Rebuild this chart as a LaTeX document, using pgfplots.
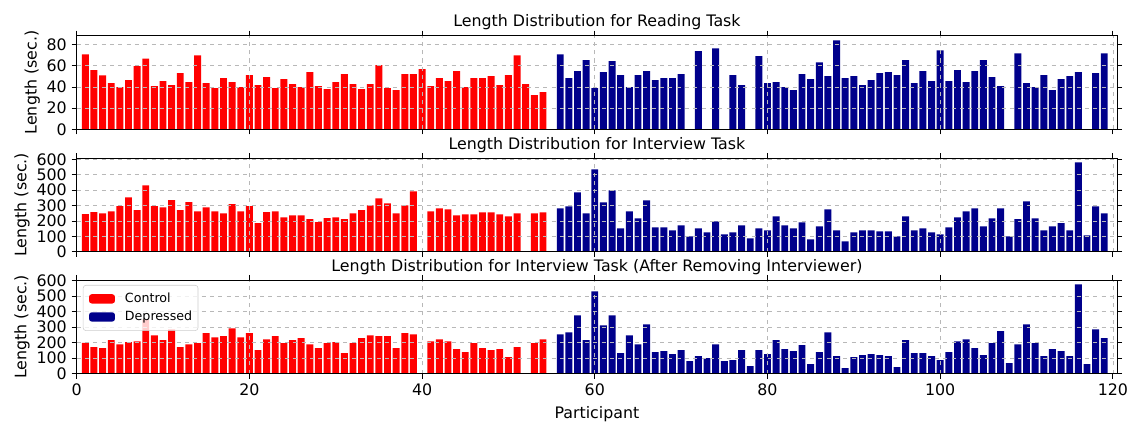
\documentclass[border=0pt]{standalone}
\usepackage{fontspec}
\setmainfont{DejaVu Sans}
\usepackage{pgfplots}
\pgfplotsset{compat=1.18}
\definecolor{ctrl}{RGB}{255,0,0}
\definecolor{depr}{RGB}{0,0,139}
\newcommand{\mainfs}{\fontsize{11.4}{13.7}\selectfont}
\pgfplotsset{
  panel/.style={
    width=749.2pt, height=67.5pt, scale only axis,
    xmin=0, xmax=120.5, ymin=0,
    ybar,
    axis on top,
    grid=major,
    major grid style={dashed, color=black!28, line width=0.5pt},
    tick align=outside,
    major tick length=3.6pt,
    tick style={black, line width=0.6pt},
    axis line style={black, line width=0.6pt},
    xtick={0,20,...,120},
    ylabel={Length (sec.)},
    label style={font=\mainfs},
    title style={font=\mainfs, yshift=-5.7pt},
    ticklabel style={font=\mainfs},
    /pgf/number format/assume math mode=true,
    ylabel style={yshift=-2pt},
  },
  cbar/.style={fill=ctrl, draw=none, bar width=0.8, bar shift=0pt},
  dbar/.style={fill=depr, draw=none, bar width=0.8, bar shift=0pt},
}
\begin{document}
\begin{tikzpicture}
\useasboundingbox (-55.2pt,-34.1pt) rectangle (757.7pt,269.1pt);
% ---------------- Reading ----------------
\begin{axis}[panel, at={(0pt,176pt)}, anchor=south west, ymax=88.5,
  ytick={0,20,...,80}, xticklabels={},
  title={Length Distribution for Reading Task}]
\addplot[cbar] coordinates {
(1,70.8)(2,55.8)(3,51)(4,43.6)(5,39.8)(6,46.4)(7,59.6)(8,66.8)(9,40.8)(10,45.5)
(11,41.7)(12,53)(13,44.5)(14,69.9)(15,43.6)(16,38.9)(17,48.3)(18,44.5)(19,39.8)(20,51.1)
(21,41.7)(22,49.2)(23,38.9)(24,47.3)(25,42.6)(26,39.8)(27,53.9)(28,40.8)(29,37.9)(30,44.5)
(31,52)(32,42.6)(33,37.9)(34,42.6)(35,60.5)(36,38.9)(37,37)(38,52)(39,52)(40,56.7)
(41,40.8)(42,48.3)(43,45.5)(44,54.9)(45,39.8)(46,48.3)(47,48.3)(48,50.2)(49,41.7)(50,51.1)
(51,69.9)(52,42.6)(53,32.3)(54,35.1)};
\addplot[dbar] coordinates {
(56,70.8)(57,48.3)(58,54.9)(59,65.2)(60,38.9)(61,53.9)(62,64.3)(63,51.1)(64,39.8)(65,51.1)
(66,54.9)(67,46.4)(68,48.3)(69,48.3)(70,52)(72,73.7)(74,76.5)(76,51.1)(77,41.7)(79,69)
(80,43.6)(81,44.5)(82,39.8)(83,37)(84,52)(85,47.3)(86,63.3)(87,50.2)(88,84)(89,48.3)
(90,50.2)(91,41.7)(92,46.4)(93,53)(94,53.9)(95,51.1)(96,65.2)(97,43.6)(98,54.9)(99,45.5)
(100,74.6)(101,45.5)(102,55.8)(103,44.5)(104,54.9)(105,65.2)(106,49.2)(107,40.8)(109,71.8)
(110,43.6)(111,39.8)(112,51.1)(113,37)(114,47.3)(115,50.2)(116,53.9)(118,53)(119,71.8)};
\end{axis}
% ---------------- Interview ----------------
\begin{axis}[panel, at={(0pt,87.8pt)}, anchor=south west, ymax=609,
  ytick={0,100,...,600}, xticklabels={},
  title={Length Distribution for Interview Task}]
\addplot[cbar] coordinates {
(1,244)(2,257)(3,250)(4,263)(5,296)(6,354)(7,270)(8,432)(9,296)(10,289)
(11,335)(12,270)(13,322)(14,263)(15,289)(16,263)(17,250)(18,309)(19,263)(20,296)
(21,186)(22,257)(23,263)(24,224)(25,237)(26,237)(27,212)(28,192)(29,218)(30,224)
(31,212)(32,250)(33,270)(34,302)(35,347)(36,315)(37,250)(38,302)(39,393)
(41,262)(42,282)(43,275)(44,236)(45,243)(46,243)(47,256)(48,256)(49,243)(50,230)
(51,249)(53,249)(54,256)};
\addplot[dbar] coordinates {
(56,282)(57,295)(58,386)(59,249)(60,535)(61,321)(62,399)(63,152)(64,262)(65,217)
(66,334)(67,158)(68,158)(69,139)(70,171)(71,100)(72,152)(73,126)(74,197)(75,113)
(76,126)(77,171)(78,87)(79,152)(80,139)(81,230)(82,171)(83,152)(84,191)(85,80)
(86,165)(87,275)(88,139)(89,67)(90,126)(91,139)(92,139)(93,132)(94,132)(95,100)
(96,230)(97,139)(98,152)(99,126)(100,113)(101,158)(102,223)(103,262)(104,282)(105,165)
(106,217)(107,282)(108,100)(109,212)(110,327)(111,217)(112,139)(113,165)(114,186)(115,139)
(116,581)(117,106)(118,295)(119,249)};
\end{axis}
% ---------------- Interview w/o interviewer ----------------
\begin{axis}[panel, at={(0pt,0pt)}, anchor=south west, ymax=604,
  ytick={0,100,...,600},
  xlabel={Participant},
  xlabel style={yshift=-1pt},
  title={Length Distribution for Interview Task (After Removing Interviewer)},
  legend style={at={(0.006,0.947)}, anchor=north west,
    font=\fontsize{9.1}{11}\selectfont,
    draw=black!20, rounded corners=2pt, fill=white, fill opacity=0.8, text opacity=1,
    inner xsep=4.2pt, inner ysep=5.6pt, row sep=4.6pt, column sep=7.2pt,
    nodes={inner sep=0pt}},
  legend cell align=left,
  legend image code/.code={\fill[#1, fill opacity=1] (0pt,-3.35pt) rectangle (18.7pt,3.35pt);},
  ]
\addplot[cbar] coordinates {
(1,199)(2,171)(3,165)(4,216)(5,190)(6,203)(7,209)(8,350)(9,248)(10,216)
(11,286)(12,171)(13,190)(14,197)(15,261)(16,235)(17,242)(18,293)(19,235)(20,261)
(21,152)(22,222)(23,242)(24,197)(25,216)(26,229)(27,190)(28,165)(29,197)(30,203)
(31,133)(32,197)(33,229)(34,248)(35,242)(36,242)(37,165)(38,261)(39,254)
(41,209)(42,222)(43,209)(44,158)(45,139)(46,197)(47,165)(48,152)(49,158)(50,107)
(51,171)(52,4)(53,197)(54,222)};
\addlegendentry{Control}
\addplot[dbar] coordinates {
(56,254)(57,267)(58,376)(59,216)(60,530)(61,312)(62,376)(63,133)(64,248)(65,190)
(66,318)(67,139)(68,145)(69,126)(70,152)(71,81)(72,113)(73,100)(74,190)(75,81)
(76,88)(77,152)(78,49)(79,152)(80,126)(81,216)(82,158)(83,145)(84,184)(85,62)
(86,139)(87,267)(88,113)(89,36)(90,107)(91,120)(92,126)(93,120)(94,113)(95,43)
(96,216)(97,133)(98,133)(99,113)(100,88)(101,139)(102,209)(103,222)(104,165)(105,120)
(106,197)(107,274)(108,68)(109,190)(110,318)(111,197)(112,113)(113,158)(114,145)(115,113)
(116,575)(117,62)(118,286)(119,229)};
\addlegendentry{Depressed}
\end{axis}
\end{tikzpicture}
\end{document}
